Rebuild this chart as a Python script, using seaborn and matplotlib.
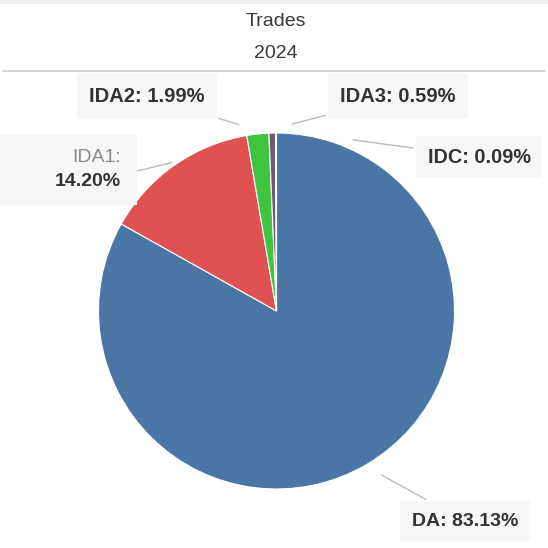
import numpy as np
import matplotlib
matplotlib.use("Agg")
import matplotlib.pyplot as plt
from matplotlib.patches import Rectangle
from matplotlib.lines import Line2D
import seaborn as sns

sns.set_theme(style="white")
plt.rcParams['font.family'] = ['Liberation Sans', 'DejaVu Sans']

categories = ["DA", "IDA1", "IDA2", "IDA3", "IDC"]
values = [83.13, 14.20, 1.99, 0.59, 0.09]
colors = ["#4a76a6", "#e05252", "#3fc43f", "#6b5a7c", "#f2a33a"]
title_lines = ["Trades", "2024"]

W = H = 548
fig = plt.figure(figsize=(W / 100, H / 100), dpi=100)
fig.patch.set_facecolor("white")

# top band and separator line
fig.patches.append(Rectangle((0, 1 - 4 / H), 1, 4 / H, transform=fig.transFigure,
                             facecolor="#eeeeee", edgecolor="none", zorder=0))
fig.add_artist(Line2D([3 / W, 545 / W], [1 - 71 / H, 1 - 71 / H],
                      color="#cccccc", lw=1.2, zorder=0))
fig.text(276 / W, 1 - 21 / H, title_lines[0], ha="center", va="center", fontsize=14, color="#3a3a3a")
fig.text(276 / W, 1 - 53 / H, title_lines[1], ha="center", va="center", fontsize=14, color="#3a3a3a")

cx, cy, r = 276.5, 311, 178
ax = fig.add_axes([(cx - r) / W, (H - cy - r) / H, 2 * r / W, 2 * r / H])
wedges, _ = ax.pie(values, colors=colors, startangle=90, counterclock=False,
                   wedgeprops=dict(edgecolor="white", linewidth=0.8))
ax.set_xlim(-1, 1)
ax.set_ylim(-1, 1)
ax.set_aspect("equal")
ax.axis("off")

# label positions (figure pixels, from top-left), alignment, connector gap (pt), font size
label_pos = {
    "DA": (465, 521, "center", 11, 14),
    "IDA1": (137, 171, "right", 0, 14),
    "IDA2": (147, 96, "center", 14, 14.5),
    "IDA3": (398, 96, "center", 15, 14.5),
    "IDC": (479, 157, "center", 56, 14.3),
}
cum = np.cumsum([0] + values[:-1])
total = sum(values)
for cat, v, c0 in zip(categories, values, cum):
    mid = 90 - (c0 + v / 2) / total * 360
    a = np.deg2rad(mid)
    xy = (1.02 * np.cos(a), 1.02 * np.sin(a))
    px, py, ha, gap, fs = label_pos[cat]
    if cat == "IDA1":
        fig.patches.append(Rectangle((0, 1 - 205 / H), 137 / W, 70 / H, transform=fig.transFigure,
                                     facecolor="#f7f7f7", edgecolor="none", zorder=1))
        ax.annotate("", xy=xy, xycoords="data",
                    xytext=(px / W, 1 - py / H), textcoords="figure fraction",
                    annotation_clip=False,
                    arrowprops=dict(arrowstyle="-", color="#bbbbbb", lw=1, shrinkA=0, shrinkB=gap))
        fig.text(121 / W, 1 - 157 / H, "IDA1:", ha="right", va="center", fontsize=fs,
                 color="#8a8a8a", zorder=3)
        fig.text(121 / W, 1 - 182 / H, f"{v:.2f}%", ha="right", va="center", fontsize=fs,
                 color="#333333", fontweight="bold", zorder=3)
        continue
    ax.annotate(f"{cat}: {v:.2f}%", xy=xy, xycoords="data",
                xytext=(px / W, 1 - py / H), textcoords="figure fraction",
                ha=ha, va="center", fontsize=fs, color="#333333", fontweight="bold",
                annotation_clip=False,
                bbox=dict(boxstyle="square,pad=0.6", fc="#f7f7f7", ec="none"),
                arrowprops=dict(arrowstyle="-", color="#bbbbbb", lw=1, shrinkB=gap))

fig.savefig("out.png", dpi=100)
